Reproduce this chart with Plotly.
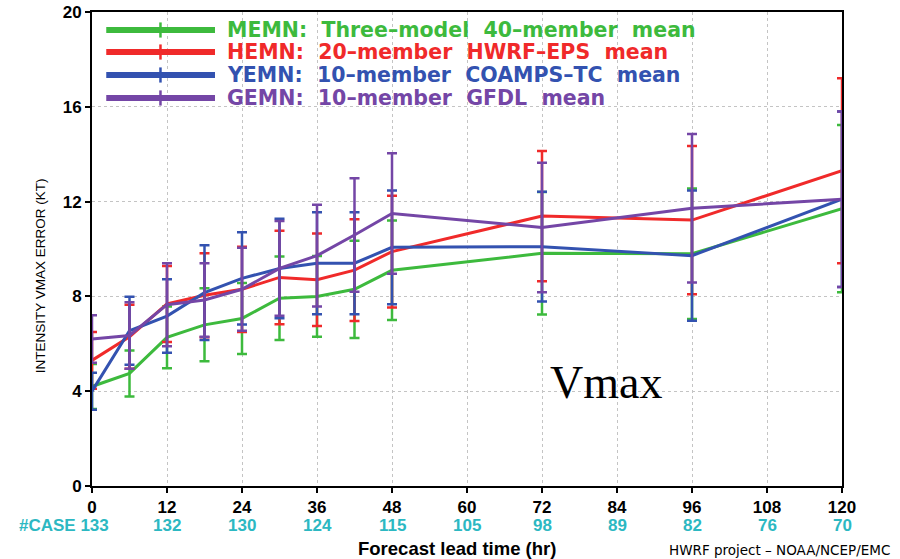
import plotly.graph_objects as go

hours = [0, 6, 12, 18, 24, 30, 36, 42, 48, 72, 96, 120]

memn_mean = [4.2, 4.75, 6.27, 6.8, 7.07, 7.92, 8.0, 8.3, 9.1, 9.82, 9.8, 11.7]
memn_err = [0.95, 0.97, 1.3, 1.54, 1.5, 1.76, 1.7, 2.05, 2.1, 2.58, 2.75, 3.53]

hemn_mean = [5.3, 6.3, 7.68, 8.05, 8.3, 8.8, 8.7, 9.11, 9.89, 11.39, 11.22, 13.3]
hemn_err = [1.2, 1.35, 1.6, 1.77, 1.8, 1.97, 1.95, 2.15, 2.36, 2.75, 3.13, 3.9]

yemn_mean = [4.0, 6.55, 7.17, 8.16, 8.76, 9.18, 9.4, 9.4, 10.07, 10.1, 9.72, 12.1]
yemn_err = [0.78, 1.43, 1.55, 2.0, 1.95, 2.1, 2.15, 2.15, 2.4, 2.32, 2.75, 3.7]

gemn_mean = [6.2, 6.35, 7.65, 7.85, 8.3, 9.18, 9.72, 10.59, 11.5, 10.91, 11.72, 12.1]
gemn_err = [1.0, 1.4, 1.75, 1.55, 1.75, 2.0, 2.15, 2.39, 2.54, 2.73, 3.13, 3.7]

case_hours = [0, 12, 24, 36, 48, 60, 72, 84, 96, 108, 120]
case_counts = [133, 132, 130, 124, 115, 105, 98, 89, 82, 76, 70]

legend_labels = [
    "MEMN:\u00a0 Three\u2013model\u00a0 40\u2013member\u00a0 mean",
    "HEMN:\u00a0 20\u2013member\u00a0 HWRF\u2013EPS\u00a0 mean",
    "YEMN:\u00a0 10\u2013member\u00a0 COAMPS\u2013TC\u00a0 mean",
    "GEMN:\u00a0 10\u2013member\u00a0 GFDL\u00a0 mean",
]

GREEN = "#3dba3d"
RED = "#f02a2a"
BLUE = "#3352b0"
PURPLE = "#7446a6"
CYAN = "#2cb8c2"

series = [
    ("MEMN", memn_mean, memn_err, GREEN),
    ("HEMN", hemn_mean, hemn_err, RED),
    ("YEMN", yemn_mean, yemn_err, BLUE),
    ("GEMN", gemn_mean, gemn_err, PURPLE),
]

NUMFONT = "Liberation Sans, Arial, sans-serif"

fig = go.Figure()
for name, mean, err, col in series:
    fig.add_trace(go.Scatter(
        x=hours, y=mean, mode="lines", name=name,
        line=dict(color=col, width=3),
        error_y=dict(type="data", array=err, visible=True, color=col,
                     thickness=2.5, width=5),
        cliponaxis=False, showlegend=False,
    ))

annotations = []
shapes = []

# custom legend (inside plot, top-left)
leg_y = [0.962, 0.9156, 0.8671, 0.8186]
leg_cols = [GREEN, RED, BLUE, PURPLE]
for yy, col, lab in zip(leg_y, leg_cols, legend_labels):
    shapes.append(dict(type="line", xref="paper", yref="paper",
                       x0=0.019, x1=0.164, y0=yy, y1=yy,
                       line=dict(color=col, width=6)))
    shapes.append(dict(type="line", xref="paper", yref="paper",
                       x0=0.0913, x1=0.0913, y0=yy - 0.016, y1=yy + 0.016,
                       line=dict(color=col, width=2.5)))
    annotations.append(dict(x=0.177, y=yy, xref="paper", yref="paper",
                            xanchor="left", yanchor="middle", showarrow=False,
                            text=lab,
                            font=dict(family="DejaVu Sans", size=20.5, color=col,
                                      weight="bold")))

# case counts
for i, (h, c) in enumerate(zip(case_hours, case_counts)):
    if i == 0:
        annotations.append(dict(x=h, y=-0.0835, xref="x", yref="paper",
                                xanchor="right", yanchor="middle", xshift=18,
                                showarrow=False, text="#CASE " + str(c),
                                borderpad=0,
                                font=dict(family=NUMFONT, size=17, color=CYAN,
                                          weight="bold")))
    else:
        annotations.append(dict(x=h, y=-0.0835, xref="x", yref="paper",
                                xanchor="center", yanchor="middle",
                                showarrow=False, text=str(c), borderpad=0,
                                font=dict(family=NUMFONT, size=17, color=CYAN,
                                          weight="bold")))

annotations.append(dict(x=0.487, y=-0.1325, xref="paper", yref="paper",
                        xanchor="center", yanchor="middle", showarrow=False,
                        text="Forecast lead time (hr)", borderpad=0,
                        font=dict(family=NUMFONT, size=18.5, color="black",
                                  weight="bold")))
annotations.append(dict(x=1.067, y=-0.134, xref="paper", yref="paper",
                        xanchor="right", yanchor="middle", showarrow=False,
                        text="HWRF project \u2013 NOAA/NCEP/EMC",
                        font=dict(family="DejaVu Sans", size=13.5, color="black")))
annotations.append(dict(x=-0.069, y=0.443, xref="paper", yref="paper",
                        xanchor="center", yanchor="middle", showarrow=False,
                        textangle=-90, text="INTENSITY VMAX ERROR (KT)",
                        font=dict(family="Liberation Sans, Arial, sans-serif",
                                  size=13.5, color="black")))
annotations.append(dict(x=82.2, y=4.35, xref="x", yref="y",
                        xanchor="center", yanchor="middle", showarrow=False,
                        text="Vmax",
                        font=dict(family="Liberation Serif, Times New Roman, serif",
                                  size=46, color="black")))

axis_common = dict(showline=True, linecolor="black", linewidth=2, mirror=True,
                   ticks="outside", ticklen=5, tickwidth=1.5, tickcolor="black",
                   showgrid=True, gridcolor="#c4c4c4", griddash="dot", gridwidth=1,
                   zeroline=False, automargin=False,
                   tickfont=dict(family=NUMFONT, size=17, color="black", weight="bold"))

fig.update_layout(
    width=900, height=559,
    margin=dict(l=92, r=58, t=12, b=73),
    paper_bgcolor="white", plot_bgcolor="white",
    xaxis=dict(range=[0, 120], tickvals=case_hours, ticklabelstandoff=0, **axis_common),
    yaxis=dict(range=[0, 20], tickvals=[0, 4, 8, 12, 16, 20], **axis_common),
    annotations=annotations, shapes=shapes,
    showlegend=False,
)

fig.write_html("out.html")
